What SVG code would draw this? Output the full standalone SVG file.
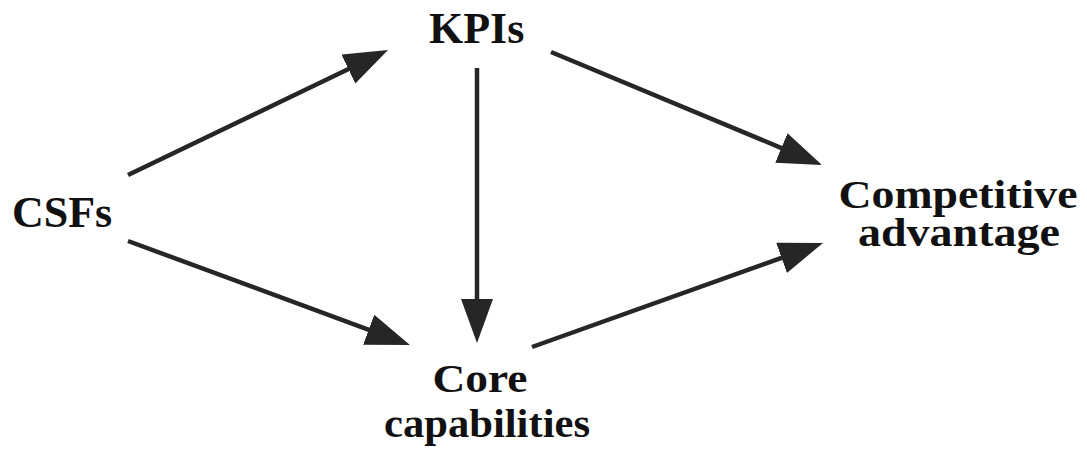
<svg xmlns="http://www.w3.org/2000/svg" width="1087" height="450" viewBox="0 0 1087 450">
  <style>
    .label { font-family: "Liberation Serif", "Times New Roman", serif; font-weight: bold; fill: #111; }
    .big { font-size: 44px; }
    .mid { font-size: 40px; }
    .edge { stroke: #262626; stroke-width: 4.5; fill: none; marker-end: url(#head); }
  </style>
  <defs>
    <marker id="head" markerUnits="userSpaceOnUse" markerWidth="48" markerHeight="34" refX="6" refY="16" orient="auto">
      <path d="M0,0 L44,16 L0,32 Z" fill="#262626"/>
    </marker>
  </defs>
  <rect width="1087" height="450" fill="#fff"/>

  <g id="connectors">
    <line class="edge" x1="128" y1="175" x2="353.8" y2="66.5"/>
    <line class="edge" x1="128" y1="241" x2="374.3" y2="331.8"/>
    <line class="edge" x1="477" y1="68" x2="477" y2="305"/>
    <line class="edge" x1="551" y1="52" x2="786.9" y2="150.3"/>
    <line class="edge" x1="532" y1="347" x2="787.2" y2="255.8"/>
  </g>

  <g id="kpis">
    <text class="label big" x="429" y="43">KPIs</text>
  </g>
  <g id="csfs">
    <text class="label big" x="12" y="227">CSFs</text>
  </g>
  <g id="competitive-advantage">
    <text class="label mid" x="958" y="208" text-anchor="middle" textLength="239" lengthAdjust="spacingAndGlyphs">Competitive</text>
    <text class="label mid" x="959" y="246" text-anchor="middle" textLength="202" lengthAdjust="spacingAndGlyphs">advantage</text>
  </g>
  <g id="core-capabilities">
    <text class="label mid" x="480" y="392" text-anchor="middle" textLength="95" lengthAdjust="spacingAndGlyphs">Core</text>
    <text class="label mid" x="487" y="437" text-anchor="middle" textLength="206" lengthAdjust="spacingAndGlyphs">capabilities</text>
  </g>
</svg>
